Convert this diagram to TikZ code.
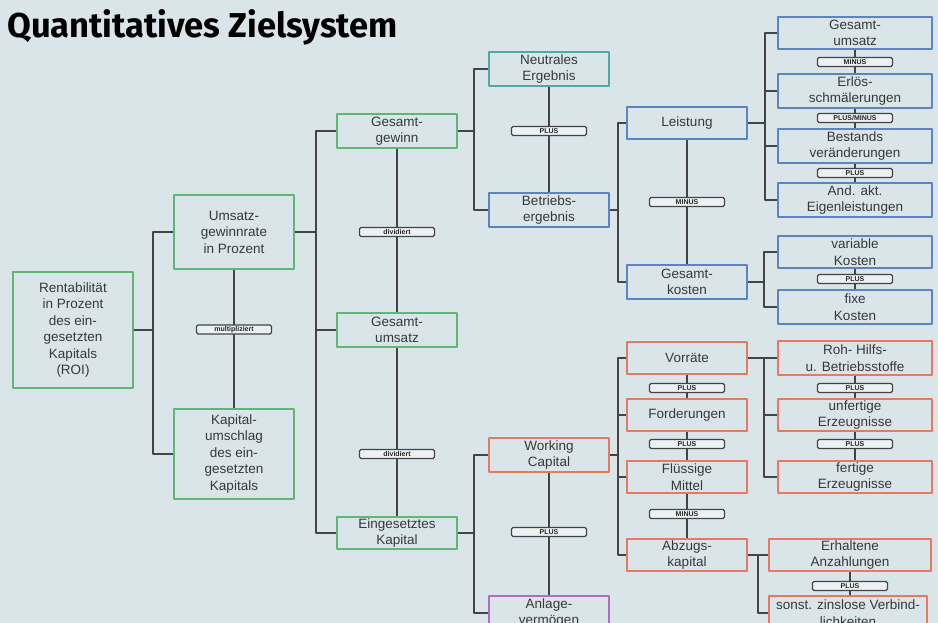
\documentclass[tikz,border=0pt]{standalone}
\usepackage{fontspec}
\setmainfont{Liberation Sans}
\newfontfamily\titlefont{Fira Sans}

\definecolor{hinter}{RGB}{218,229,234}
\definecolor{gruen}{RGB}{96,183,115}
\definecolor{tuerkis}{RGB}{82,168,168}
\definecolor{blau}{RGB}{92,132,196}
\definecolor{rot}{RGB}{232,120,96}
\definecolor{lila}{RGB}{178,110,190}
\definecolor{linie}{RGB}{68,68,68}
\definecolor{opfill}{RGB}{236,241,243}

\tikzset{
  zbox/.style={draw, line width=2pt, inner sep=0pt, align=center, text=black!78,
    font=\fontsize{13.5}{16.5}\selectfont},
  gbox/.style={zbox, draw=gruen, minimum width=120},
  tbox/.style={zbox, draw=tuerkis, minimum width=120},
  bbox/.style={zbox, draw=blau},
  rbox/.style={zbox, draw=rot},
  lbox/.style={zbox, draw=lila, minimum width=120},
  opbox/.style={draw=linie, line width=1.3pt, rounded corners=1.5pt, fill=opfill,
    minimum width=75, minimum height=9, inner sep=0pt, text=black!85,
    font=\fontsize{7}{7}\selectfont\bfseries},
  conn/.style={draw=linie, line width=2pt}
}

\begin{document}
\begin{tikzpicture}[x=1pt, y=-1pt, line join=round]
  \useasboundingbox (0,0) rectangle (938,623);
  \fill[hinter] (0,0) rectangle (938,623);
  \clip (0,0) rectangle (938,623);

  % Titel
  \node[anchor=base west, inner sep=0pt, font=\titlefont\bfseries\fontsize{34.5}{34.5}\selectfont]
    (titel) at (7,38) {Quantitatives Zielsystem};

  % Spalte 1 und 2
  \node[gbox, minimum height=116] (roi) at (73,330) {Rentabilität\\in Prozent\\des ein-\\gesetzten\\Kapitals\\(ROI)};
  \node[gbox, minimum height=74] (rate) at (234,232) {Umsatz-\\gewinnrate\\in Prozent};
  \node[gbox, minimum height=90] (kap) at (234,454) {Kapital-\\umschlag\\des ein-\\gesetzten\\Kapitals};

  % Spalte 3
  \node[gbox, minimum height=34] (gg) at (397,131) {Gesamt-\\gewinn};
  \node[gbox, minimum height=34] (gu) at (397,330) {Gesamt-\\umsatz};
  \node[gbox, minimum height=32] (ek) at (397,533) {Eingesetztes\\Kapital};

  % Spalte 4
  \node[tbox, minimum height=34] (ne) at (549,69) {Neutrales\\Ergebnis};
  \node[bbox, minimum width=120, minimum height=34] (be) at (549,210) {Betriebs-\\ergebnis};
  \node[rbox, minimum width=120, minimum height=34] (wc) at (549,455) {Working\\Capital};
  \node[lbox, minimum height=34] (av) at (549,613) {Anlage-\\vermögen};

  % Spalte 5 (blau)
  \node[bbox, minimum width=120, minimum height=32] (le) at (687,123) {Leistung};
  \node[bbox, minimum width=120, minimum height=34] (gk) at (687,282) {Gesamt-\\kosten};

  % Spalte 5 (rot)
  \node[rbox, minimum width=120, minimum height=32] (vo) at (687,358) {Vorräte};
  \node[rbox, minimum width=120, minimum height=32] (fo) at (687,415) {Forderungen};
  \node[rbox, minimum width=120, minimum height=32] (fm) at (687,477) {Flüssige\\Mittel};
  \node[rbox, minimum width=120, minimum height=32] (ak) at (687,555) {Abzugs-\\kapital};

  % Spalte 6 (blau)
  \node[bbox, minimum width=154, minimum height=32] (gu2) at (855,33) {Gesamt-\\umsatz};
  \node[bbox, minimum width=154, minimum height=34] (es) at (855,91) {Erlös-\\schmälerungen};
  \node[bbox, minimum width=154, minimum height=34] (bv) at (855,146) {Bestands\\veränderungen};
  \node[bbox, minimum width=154, minimum height=34] (ae) at (855,200) {And. akt.\\Eigenleistungen};
  \node[bbox, minimum width=154, minimum height=32] (vk) at (855,252) {variable\\Kosten};
  \node[bbox, minimum width=154, minimum height=34] (fk) at (855,307) {fixe\\Kosten};

  % Spalte 6 (rot)
  \node[rbox, minimum width=154, minimum height=34] (rh) at (855,358) {Roh- Hilfs-\\u. Betriebsstoffe};
  \node[rbox, minimum width=154, minimum height=32] (uf) at (855,415) {unfertige\\Erzeugnisse};
  \node[rbox, minimum width=154, minimum height=32] (fe) at (855,477) {fertige\\Erzeugnisse};
  \node[rbox, minimum width=162, minimum height=32] (ea) at (850,555) {Erhaltene\\Anzahlungen};
  \node[rbox, minimum width=158, minimum height=34] (sz) at (848,613) {sonst. zinslose Verbind-\\lichkeiten};

  % Klammern
  \coordinate (k1) at (153,0);
  \coordinate (k2) at (316,0);
  \coordinate (k3) at (474,0);
  \coordinate (k5) at (618,0);
  \coordinate (k6) at (765,0);
  \coordinate (k7) at (764,0);
  \coordinate (k10) at (758,0);

  \draw[conn] (roi.east) -- (roi.east -| k1);
  \draw[conn] (rate.west) -- (rate.west -| k1) |- (kap.west);

  \draw[conn] (rate.east) -- (rate.east -| k2);
  \draw[conn] (gg.west) -- (gg.west -| k2) |- (ek.west);
  \draw[conn] (gu.west) -- (gu.west -| k2);

  \draw[conn] (gg.east) -- (gg.east -| k3);
  \draw[conn] (ne.west) -- (ne.west -| k3) |- (be.west);
  \draw[conn] (ek.east) -- (ek.east -| k3);
  \draw[conn] (wc.west) -- (wc.west -| k3) |- (av.west);

  \draw[conn] (be.east) -- (be.east -| k5);
  \draw[conn] (le.west) -- (le.west -| k5) |- (gk.west);
  \draw[conn] (wc.east) -- (wc.east -| k5);
  \draw[conn] (vo.west) -- (vo.west -| k5) |- (ak.west);
  \draw[conn] (fo.west) -- (fo.west -| k5);
  \draw[conn] (fm.west) -- (fm.west -| k5);

  \draw[conn] (le.east) -- (le.east -| k6);
  \draw[conn] (gu2.west) -- (gu2.west -| k6) |- (ae.west);
  \draw[conn] (es.west) -- (es.west -| k6);
  \draw[conn] (bv.west) -- (bv.west -| k6);

  \draw[conn] (gk.east) -- (gk.east -| k7);
  \draw[conn] (vk.west) -- (vk.west -| k7) |- (fk.west);

  \draw[conn] (vo.east) -- (rh.west);
  \draw[conn] (vo.east -| k7) |- (fe.west);
  \draw[conn] (uf.west) -- (uf.west -| k7);

  \draw[conn] (ak.east) -- (ea.west);
  \draw[conn] (ak.east -| k10) |- (sz.west);

  % Verknuepfungen senkrecht
  \foreach \a/\b in {rate/kap, gg/gu, gu/ek, ne/be, wc/av, le/gk, gu2/es, es/bv, bv/ae,
                     vk/fk, vo/fo, fo/fm, fm/ak, rh/uf, uf/fe} {
    \draw[conn] (\a.south) -- (\b.north);
  }
  \draw[conn] (ea.south) -- (ea.south |- sz.north);

  % Rechenzeichen
  \foreach \name/\x/\y/\txt in {op1/234/329.5/multipliziert, op2/397/232/dividiert,
      op3/397/454/dividiert, op4/549/131/PLUS, op5/549/532/PLUS, op6/687/202/MINUS,
      op7/855/62/MINUS, op8/855/118/{PLUS/MINUS}, op9/855/173/PLUS, op10/855/279/PLUS,
      op11/687/388/PLUS, op12/687/444/PLUS, op13/687/514/MINUS, op14/855/388/PLUS,
      op15/855/444/PLUS, op16/850/586/PLUS} {
    \node[opbox] (\name) at (\x,\y) {\txt};
  }
\end{tikzpicture}
\end{document}
